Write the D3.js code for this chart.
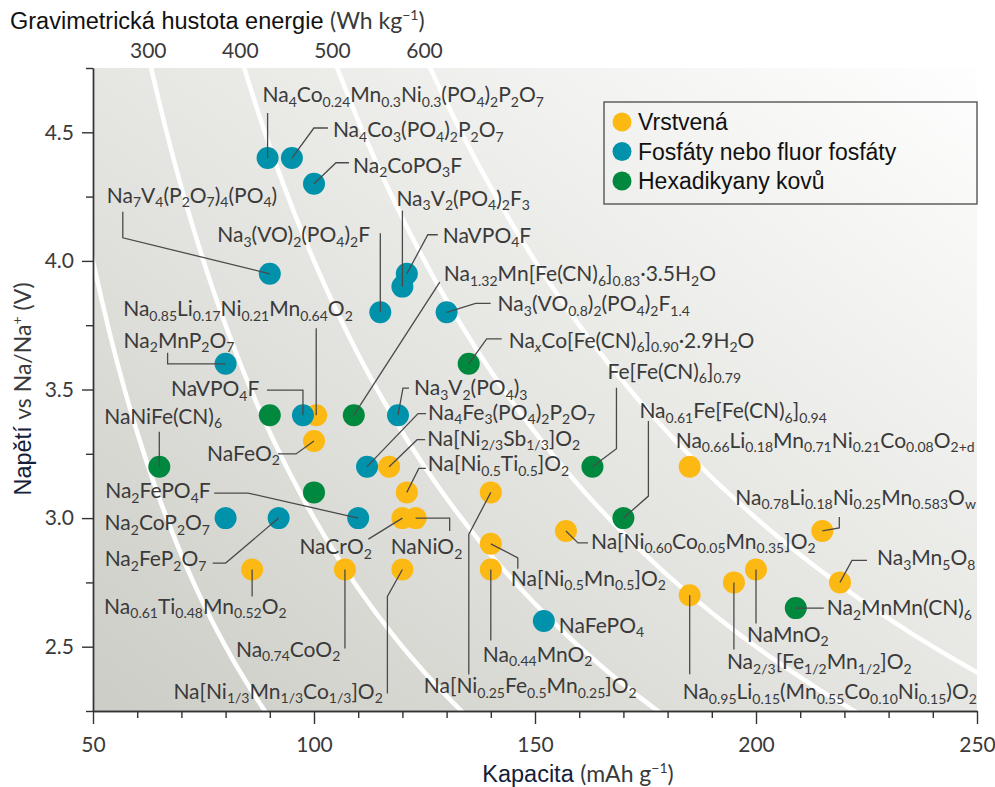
<!DOCTYPE html>
<html>
<head>
<meta charset="utf-8">
<script src="https://cdn.jsdelivr.net/npm/d3@7"></script>
<style>
  body { margin: 0; background: #fff; }
  svg { display: block; }
  .lbl { font-family: Lato, "Open Sans", sans-serif; font-size: 21px; fill: #3a3a3a; }
  .tick text { font-family: Lato, "Open Sans", sans-serif; font-size: 21px; fill: #3a3a3a; }
  .tick line, .domain { stroke: #333; stroke-width: 1.4; }
</style>
</head>
<body>
<svg id="chart" width="995" height="787"></svg>
<script>
// capacity (mAh/g) vs voltage (V vs Na/Na+); {..} marks a subscript
const layered = [
  { name: 'Na{0.85}Li{0.17}Ni{0.21}Mn{0.64}O{2}', c: 100.5, v: 3.4 },
  { name: 'NaFeO{2}', c: 100, v: 3.3 },
  { name: 'Na[Ni{2/3}Sb{1/3}]O{2}', c: 117, v: 3.2 },
  { name: 'Na[Ni{0.5}Ti{0.5}]O{2}', c: 121, v: 3.1 },
  { name: 'Na[Ni{0.25}Fe{0.5}Mn{0.25}]O{2}', c: 140, v: 3.1 },
  { name: 'NaCrO{2}', c: 120, v: 3.0 },
  { name: 'NaNiO{2}', c: 123, v: 3.0 },
  { name: 'Na[Ni{0.5}Mn{0.5}]O{2}', c: 140, v: 2.9 },
  { name: 'Na{0.44}MnO{2}', c: 140, v: 2.8 },
  { name: 'Na{0.61}Ti{0.48}Mn{0.52}O{2}', c: 86, v: 2.8 },
  { name: 'Na{0.74}CoO{2}', c: 107, v: 2.8 },
  { name: 'Na[Ni{1/3}Mn{1/3}Co{1/3}]O{2}', c: 120, v: 2.8 },
  { name: 'Na[Ni{0.60}Co{0.05}Mn{0.35}]O{2}', c: 157, v: 2.95 },
  { name: 'Na{0.66}Li{0.18}Mn{0.71}Ni{0.21}Co{0.08}O{2+d}', c: 185, v: 3.2 },
  { name: 'Na{0.78}Li{0.18}Ni{0.25}Mn{0.583}O{w}', c: 215, v: 2.95 },
  { name: 'Na{3}Mn{5}O{8}', c: 219, v: 2.75 },
  { name: 'Na{0.95}Li{0.15}(Mn{0.55}Co{0.10}Ni{0.15})O{2}', c: 185, v: 2.7 },
  { name: 'Na{2/3}[Fe{1/2}Mn{1/2}]O{2}', c: 195, v: 2.75 },
  { name: 'NaMnO{2}', c: 200, v: 2.8 }
];

const phosphates = [
  { name: 'Na{4}Co{0.24}Mn{0.3}Ni{0.3}(PO{4}){2}P{2}O{7}', c: 89.5, v: 4.4 },
  { name: 'Na{4}Co{3}(PO{4}){2}P{2}O{7}', c: 95, v: 4.4 },
  { name: 'Na{2}CoPO{3}F', c: 100, v: 4.3 },
  { name: 'Na{7}V{4}(P{2}O{7}){4}(PO{4})', c: 90, v: 3.95 },
  { name: 'Na{3}(VO){2}(PO{4}){2}F', c: 115, v: 3.8 },
  { name: 'NaVPO{4}F', c: 121, v: 3.95 },
  { name: 'Na{3}V{2}(PO{4}){2}F{3}', c: 120, v: 3.9 },
  { name: 'Na{3}(VO{0.8}){2}(PO{4}){2}F{1.4}', c: 130, v: 3.8 },
  { name: 'Na{2}MnP{2}O{7}', c: 80, v: 3.6 },
  { name: 'NaVPO{4}F', c: 97.5, v: 3.4 },
  { name: 'Na{3}V{2}(PO{4}){3}', c: 119, v: 3.4 },
  { name: 'Na{4}Fe{3}(PO{4}){2}P{2}O{7}', c: 112, v: 3.2 },
  { name: 'Na{2}FePO{4}F', c: 110, v: 3.0 },
  { name: 'Na{2}CoP{2}O{7}', c: 80, v: 3.0 },
  { name: 'Na{2}FeP{2}O{7}', c: 92, v: 3.0 },
  { name: 'NaFePO{4}', c: 152, v: 2.6 }
];

const hexacyanides = [
  { name: 'Na{x}Co[Fe(CN){6}]{0.90}·2.9H{2}O', c: 135, v: 3.6 },
  { name: '', c: 90, v: 3.4 },
  { name: 'Na{1.32}Mn[Fe(CN){6}]{0.83}·3.5H{2}O', c: 109, v: 3.4 },
  { name: 'NaNiFe(CN){6}', c: 65, v: 3.2 },
  { name: '', c: 100, v: 3.1 },
  { name: 'Fe[Fe(CN){6}]{0.79}', c: 163, v: 3.2 },
  { name: 'Na{0.61}Fe[Fe(CN){6}]{0.94}', c: 170, v: 3.0 },
  { name: 'Na{2}MnMn(CN){6}', c: 209, v: 2.65 }
];

const seriesNames = ['Vrstvená', 'Fosfáty nebo fluor fosfáty', 'Hexadikyany kovů'];
const xTicks = [50, 100, 150, 200, 250];
const yTicks = [2.5, 3.0, 3.5, 4.0, 4.5];
const energyTicks = [300, 400, 500, 600];          // Wh/kg labels on top
const energyLines = [200, 300, 400, 500, 600];

// label placement, pixel offsets from each dot (same order as the data)
const layeredLayout = [
  { at: [-193, -99], lead: [[0, 0], [0, -87]] },
  { at: [-107, 20], lead: [[0, 0], [-18, 13], [-36, 13]] },
  { at: [38, -21], lead: [[0, 0], [28, -27], [36, -27]] },
  { at: [21, -21], lead: [[0, 0], [12, -24], [19, -24]] },
  { at: [-67, 201], lead: [[0, 0], [-22, 42], [-22, 182]] },
  { at: [-103, 36], lead: [[0, 0], [-34, 21]] },
  { at: [-25, 36], lead: [[0, 0], [34, 0], [34, 13]] },
  { at: [20, 42], lead: [[0, 0], [27, 14], [27, 25]] },
  { at: [-8, 92], lead: [[0, 0], [0, 71]] },
  { at: [-148, 44], lead: [[0, 0], [0, 27]] },
  { at: [-109, 87], lead: [[0, 0], [0, 79]] },
  { at: [-229, 129], lead: [[0, 0], [-15, 27], [-15, 124]] },
  { at: [25, 18], lead: [[0, 0], [12, 12], [22, 12]] },
  { at: [-14, -19], lead: null },
  { at: [-87, -26], lead: [[0, 0], [17, -3], [17, -14]] },
  { at: [37, -17], lead: [[0, 0], [12, -22], [27, -22]] },
  { at: [-7, 104], lead: [[0, 0], [0, 79]] },
  { at: [-7, 87], lead: [[0, 0], [0, 67]] },
  { at: [-9, 72], lead: [[0, 0], [0, 54]] }
];

const phosphateLayout = [
  { at: [-5, -56], lead: [[0, 0], [0, -45]] },
  { at: [41, -21], lead: [[0, 0], [22, -30], [36, -30]] },
  { at: [39, -11], lead: [[0, 0], [22, -21], [35, -21]] },
  { at: [-163, -71], lead: [[0, 0], [-147, -36], [-147, -62]] },
  { at: [-163, -70], lead: [[0, 0], [0, -79]] },
  { at: [36, -31], lead: [[0, 0], [21, -39], [31, -39]] },
  { at: [-6, -81], lead: [[0, 0], [0, -76]] },
  { at: [51, -1], lead: [[0, 0], [29, -9], [44, -9]] },
  { at: [-102, -16], lead: [[0, 0], [-58, 0], [-58, -11]] },
  { at: [-132, -19], lead: [[0, 0], [0, -25], [-36, -25]] },
  { at: [16, -20], lead: [[0, 0], [5, -27], [11, -27]] },
  { at: [61, -47], lead: [[0, 0], [51, -53], [59, -53]] },
  { at: [-253, -20], lead: [[0, 0], [-110, -25], [-144, -25]] },
  { at: [-121, 12], lead: null },
  { at: [-174, 48], lead: [[0, 0], [-53, 45], [-66, 45]] },
  { at: [15, 12], lead: null }
];

const hexLayout = [
  { at: [40, -16], lead: [[0, 0], [18, -25], [33, -25]] },
  null,
  { at: [90, -134], lead: [[0, 0], [86, -133]] },
  { at: [-55, -43], lead: [[0, 0], [0, -35]] },
  null,
  { at: [15, -88], lead: [[0, 0], [24, -18], [24, -79]] },
  { at: [16, -100], lead: [[0, 0], [25, -22], [25, -97]] },
  { at: [31, 7], lead: [[0, 0], [28, 0]] }
];

const colors = ['#fdb913', '#0091ab', '#00883e'];

const svg = d3.select('#chart');
const mLeft = 93, mRight = 977, mTop = 68, mBottom = 711;

const x = d3.scaleLinear().domain([50, 250]).range([mLeft, mRight]);
const y = d3.scaleLinear().domain([2.25, 4.75]).range([mBottom, mTop]);

// background
const defs = svg.append('defs');
const grad = defs.append('linearGradient').attr('id', 'bg')
  .attr('x1', '0%').attr('y1', '100%').attr('x2', '100%').attr('y2', '0%');
grad.append('stop').attr('offset', '0%').attr('stop-color', '#cdcdc7');
grad.append('stop').attr('offset', '40%').attr('stop-color', '#e1e1dd');
grad.append('stop').attr('offset', '75%').attr('stop-color', '#f2f2f0');
grad.append('stop').attr('offset', '100%').attr('stop-color', '#fefefe');
defs.append('clipPath').attr('id', 'plotClip').append('rect')
  .attr('x', mLeft).attr('y', mTop).attr('width', mRight - mLeft).attr('height', mBottom - mTop);

svg.append('rect')
  .attr('x', mLeft).attr('y', mTop)
  .attr('width', mRight - mLeft).attr('height', mBottom - mTop)
  .attr('fill', 'url(#bg)');

// iso-energy curves: E = V * C
let vSteps = d3.range(2.2, 4.81, 0.05);
let curve = d3.line().x(d => x(d[0])).y(d => y(d[1])).curve(d3.curveBasis);
svg.append('g').attr('clip-path', 'url(#plotClip)')
  .selectAll('path').data(energyLines).join('path')
  .attr('d', e => curve(vSteps.map(v => [e / v, v])))
  .attr('fill', 'none')
  .attr('stroke', '#fff')
  .attr('stroke-width', 4.5);

// axes
let xAxis = svg.append('g').attr('transform', 'translate(0,' + mBottom + ')');
xAxis.call(d3.axisBottom(x).tickValues(d3.range(60, 250, 10).filter(d => d % 50))
  .tickSize(7).tickSizeOuter(0).tickFormat(''));
let xMajor = svg.append('g').attr('transform', 'translate(0,' + mBottom + ')');
xMajor.call(d3.axisBottom(x).tickValues(xTicks).tickSize(13).tickSizeOuter(0).tickPadding(5));
xMajor.selectAll('.tick text').attr('dy', '1.1em');

let yAxis = svg.append('g').attr('transform', 'translate(' + mLeft + ',0)');
yAxis.call(d3.axisLeft(y).tickValues([2.25, 2.75, 3.25, 3.75, 4.25, 4.75])
  .tickSize(7).tickSizeOuter(0).tickFormat(''));
let yMajor = svg.append('g').attr('transform', 'translate(' + mLeft + ',0)');
yMajor.call(d3.axisLeft(y).tickValues(yTicks).tickSize(11).tickSizeOuter(0)
  .tickPadding(8).tickFormat(d3.format('.1f')));

// top energy scale
svg.append('g').selectAll('text').data(energyTicks).join('text')
  .attr('class', 'lbl')
  .attr('x', e => x(e / 4.8))
  .attr('y', 58)
  .attr('text-anchor', 'middle')
  .text(e => e);

// axis titles: word in plain sans, unit in the label font
function axisTitle(t, word, color, unit, sup, tail) {
  t.append('tspan').attr('font-family', '"Liberation Sans", Arial, sans-serif')
    .style('font-size', '23.5px').attr('fill', color).text(word + ' ');
  t.append('tspan').attr('class', 'lbl').style('font-size', '23px').text(unit);
  t.append('tspan').attr('class', 'lbl').style('font-size', '14px').attr('dy', -9).text(sup);
  t.append('tspan').attr('class', 'lbl').style('font-size', '23px').attr('dy', 9).text(tail);
}

axisTitle(svg.append('text').attr('x', 10).attr('y', 29),
  'Gravimetrická hustota energie', '#111', '(Wh kg', '−1', ')');
axisTitle(svg.append('text').attr('x', 578).attr('y', 782).attr('text-anchor', 'middle'),
  'Kapacita', '#14203a', '(mAh g', '−1', ')');
axisTitle(svg.append('text').attr('transform', 'translate(31,389) rotate(-90)').attr('text-anchor', 'middle'),
  'Napětí', '#14203a', 'vs Na/Na', '+', ' (V)');

// dots
const groups = [
  { data: layered, layout: layeredLayout, color: colors[0] },
  { data: phosphates, layout: phosphateLayout, color: colors[1] },
  { data: hexacyanides, layout: hexLayout, color: colors[2] }
];

groups.forEach(function(gr) {
  svg.append('g').selectAll('circle').data(gr.data).join('circle')
    .attr('cx', d => x(d.c))
    .attr('cy', d => y(d.v))
    .attr('r', 11)
    .attr('fill', gr.color);
});

// leader lines and labels
function addFormula(sel, str, px, py) {
  let t = sel.append('text').attr('class', 'lbl').attr('x', px).attr('y', py);
  let shift = 0;
  str.split(/(\{[^}]*\})/).filter(s => s.length).forEach(function(part) {
    let sub = part[0] === '{';
    let s = t.append('tspan').text(sub ? part.slice(1, -1) : part);
    let want = sub ? 4.5 : 0;
    if (want !== shift) { s.attr('dy', want - shift); shift = want; }
    if (sub) s.attr('font-size', 14);
    if (part === '{x}') s.attr('font-style', 'italic');
  });
}

let leaders = svg.append('g');
let labels = svg.append('g');
groups.forEach(function(gr) {
  gr.data.forEach(function(d, i) {
    let lay = gr.layout[i];
    if (!lay || !d.name) return;
    let cx = x(d.c), cy = y(d.v);
    if (lay.lead) {
      leaders.append('polyline')
        .attr('points', lay.lead.map(p => (cx + p[0]) + ',' + (cy + p[1])).join(' '))
        .attr('fill', 'none')
        .attr('stroke', '#4a4a4a')
        .attr('stroke-width', 1.3);
    }
    addFormula(labels, d.name, cx + lay.at[0], cy + lay.at[1]);
  });
});

// legend
let legend = svg.append('g').attr('transform', 'translate(604,102)');
legend.append('rect').attr('width', 373).attr('height', 102)
  .attr('fill', 'none').attr('stroke', '#555').attr('stroke-width', 1.4);
let items = legend.selectAll('g').data(seriesNames).join('g')
  .attr('transform', (d, i) => 'translate(18,' + (20 + i * 29.5) + ')');
items.append('circle').attr('r', 9.5).attr('fill', (d, i) => colors[i]);
items.append('text')
  .attr('x', 16).attr('dy', 8)
  .attr('font-family', '"Liberation Sans", Arial, sans-serif')
  .attr('font-size', 23).attr('fill', '#111')
  .text(d => d);
</script>
</body>
</html>
